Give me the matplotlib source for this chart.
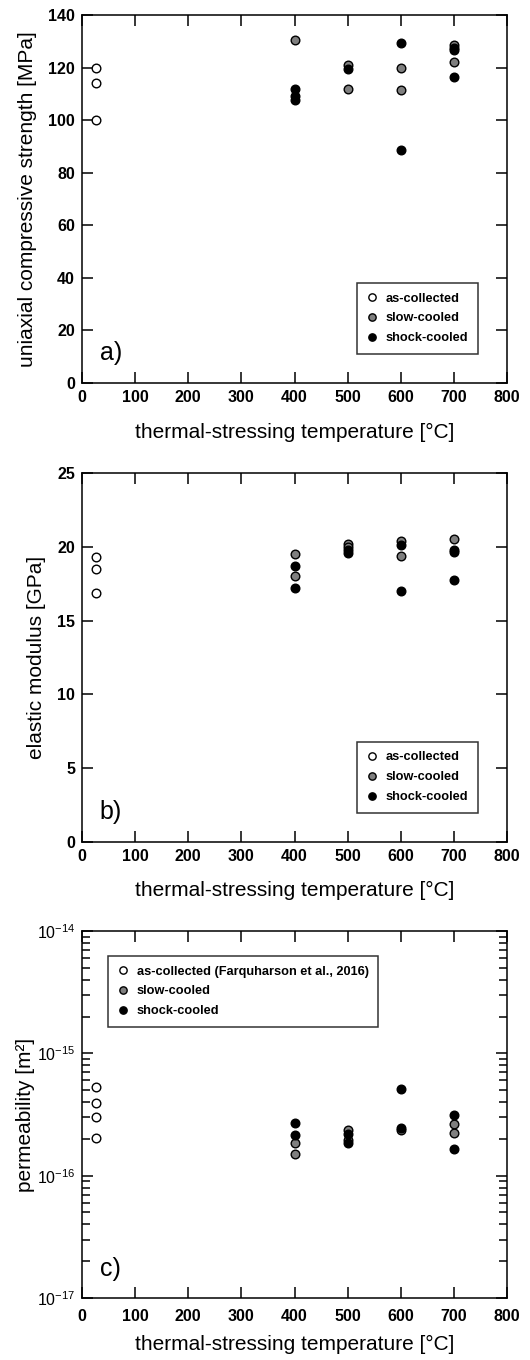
import matplotlib
matplotlib.use("Agg")
import matplotlib.pyplot as plt
from matplotlib.ticker import FixedLocator, LogFormatterMathtext, NullFormatter

plt.rcParams['font.family'] = ['Liberation Sans', 'DejaVu Sans']
plt.rcParams['mathtext.fontset'] = 'custom'
plt.rcParams['mathtext.rm'] = 'Liberation Sans'
plt.rcParams['mathtext.default'] = 'rm'

# ---------------- data ----------------
x_ambient = 27
# panel a: UCS [MPa]
ucs_as_collected = [120, 114, 100]
ucs_slow_T = [400, 500, 500, 600, 600, 700, 700]
ucs_slow = [130.5, 121, 112, 120, 111.5, 128.5, 122]
ucs_shock_T = [400, 400, 400, 500, 600, 600, 700, 700, 700]
ucs_shock = [112, 109, 107.5, 119.5, 129.5, 88.5, 127.5, 126.5, 116.5]

# panel b: elastic modulus [GPa]
E_as_collected = [19.3, 18.5, 16.85]
E_slow_T = [400, 400, 500, 500, 600, 600, 700]
E_slow = [19.5, 18.0, 20.2, 20.0, 20.4, 19.4, 20.5]
E_shock_T = [400, 400, 500, 500, 600, 600, 700, 700, 700]
E_shock = [18.7, 17.2, 19.8, 19.6, 20.1, 17.0, 19.8, 19.65, 17.75]

# panel c: permeability [m^2]
k_as_collected = [5.27e-16, 3.95e-16, 3.03e-16, 2.05e-16]
k_slow_T = [400, 400, 500, 500, 600, 700, 700]
k_slow = [1.84e-16, 1.51e-16, 2.37e-16, 1.95e-16, 2.37e-16, 2.65e-16, 2.25e-16]
k_shock_T = [400, 400, 500, 500, 600, 600, 700, 700]
k_shock = [2.68e-16, 2.15e-16, 2.2e-16, 1.86e-16, 5.1e-16, 2.44e-16, 3.13e-16, 1.64e-16]

xticks = [0, 100, 200, 300, 400, 500, 600, 700, 800]
k_major = [1e-17, 1e-16, 1e-15, 1e-14]
k_minor = [m * d for d in [1e-17, 1e-16, 1e-15] for m in range(2, 10)]
xlabel = "thermal-stressing temperature [°C]"

GRAY = '#7f7f7f'
MS = 6.2
LABEL_FS = 15
TICK_FS = 11.5

fig = plt.figure(figsize=(5.3, 13.6), dpi=100)
L, W = 82/530, 425/530
ax_a = fig.add_axes([L, 1-383/1360, W, 368/1360])
ax_b = fig.add_axes([L, 1-842/1360, W, 369/1360])
ax_c = fig.add_axes([L, 1-1298/1360, W, 367/1360])

def style(ax, xpad=5, xlabelpad=12, bold_y=True):
    ax.set_xlim(0, 800)
    ax.set_xticks(xticks)
    ax.tick_params(which='both', direction='in', top=True, right=True, width=1.1)
    ax.tick_params(which='major', length=8, labelsize=TICK_FS)
    ax.tick_params(which='minor', length=6, labelleft=False, labelbottom=False)
    ax.tick_params(axis='x', which='major', pad=xpad)
    ax.tick_params(axis='y', which='major', pad=5)
    labs = ax.get_xticklabels() + (ax.get_yticklabels() if bold_y else [])
    for lab in labs:
        lab.set_fontweight('bold')
    for s in ax.spines.values():
        s.set_linewidth(1.1)
    ax.set_xlabel(xlabel, fontsize=LABEL_FS, labelpad=xlabelpad)

def plot_series(ax, ya, xs, ys, xk, yk, labels):
    ax.plot([x_ambient]*len(ya), ya, 'o', ms=MS, mfc='white', mec='black', mew=1.0, label=labels[0], zorder=3)
    ax.plot(xs, ys, 'o', ms=MS, mfc=GRAY, mec='black', mew=1.0, label=labels[1], zorder=3)
    ax.plot(xk, yk, 'o', ms=MS, mfc='black', mec='black', mew=1.0, label=labels[2], zorder=4)

def legend(ax, anchor, loc):
    lg = ax.legend(loc=loc, bbox_to_anchor=anchor, borderaxespad=0,
                   frameon=True, fancybox=False, edgecolor='black', markerscale=0.85,
                   handlelength=0.8, handletextpad=0.7, labelspacing=0.62,
                   borderpad=0.75, prop={'weight': 'bold', 'size': 9.2})
    lg.get_frame().set_linewidth(1.1)
    return lg

labels_ab = ['as-collected', 'slow-cooled', 'shock-cooled']

# panel a
plot_series(ax_a, ucs_as_collected, ucs_slow_T, ucs_slow, ucs_shock_T, ucs_shock, labels_ab)
ax_a.set_ylim(0, 140)
ax_a.set_yticks(range(0, 141, 20))
ax_a.set_ylabel("uniaxial compressive strength [MPa]", fontsize=LABEL_FS, labelpad=8)
style(ax_a, xpad=5, xlabelpad=13)
legend(ax_a, (0.932, 0.079), 'lower right')
ax_a.text(0.042, 0.05, 'a)', transform=ax_a.transAxes, fontsize=18, ha='left', va='bottom')

# panel b
plot_series(ax_b, E_as_collected, E_slow_T, E_slow, E_shock_T, E_shock, labels_ab)
ax_b.set_ylim(0, 25)
ax_b.set_yticks(range(0, 26, 5))
ax_b.set_ylabel("elastic modulus [GPa]", fontsize=LABEL_FS, labelpad=8)
style(ax_b, xpad=5, xlabelpad=12)
legend(ax_b, (0.932, 0.079), 'lower right')
ax_b.text(0.042, 0.05, 'b)', transform=ax_b.transAxes, fontsize=18, ha='left', va='bottom')

# panel c
plot_series(ax_c, k_as_collected, k_slow_T, k_slow, k_shock_T, k_shock,
            ['as-collected (Farquharson et al., 2016)', 'slow-cooled', 'shock-cooled'])
ax_c.set_yscale('log')
ax_c.set_ylim(1e-17, 1e-14)
ax_c.yaxis.set_major_locator(FixedLocator(k_major))
ax_c.yaxis.set_major_formatter(LogFormatterMathtext())
ax_c.yaxis.set_minor_locator(FixedLocator(k_minor))
ax_c.yaxis.set_minor_formatter(NullFormatter())
ax_c.set_ylabel("permeability [m²]", fontsize=LABEL_FS, labelpad=1)
style(ax_c, xpad=8, xlabelpad=8, bold_y=False)
legend(ax_c, (0.061, 0.932), 'upper left')
ax_c.text(0.042, 0.045, 'c)', transform=ax_c.transAxes, fontsize=18, ha='left', va='bottom')

fig.savefig('out.png', dpi=100)
